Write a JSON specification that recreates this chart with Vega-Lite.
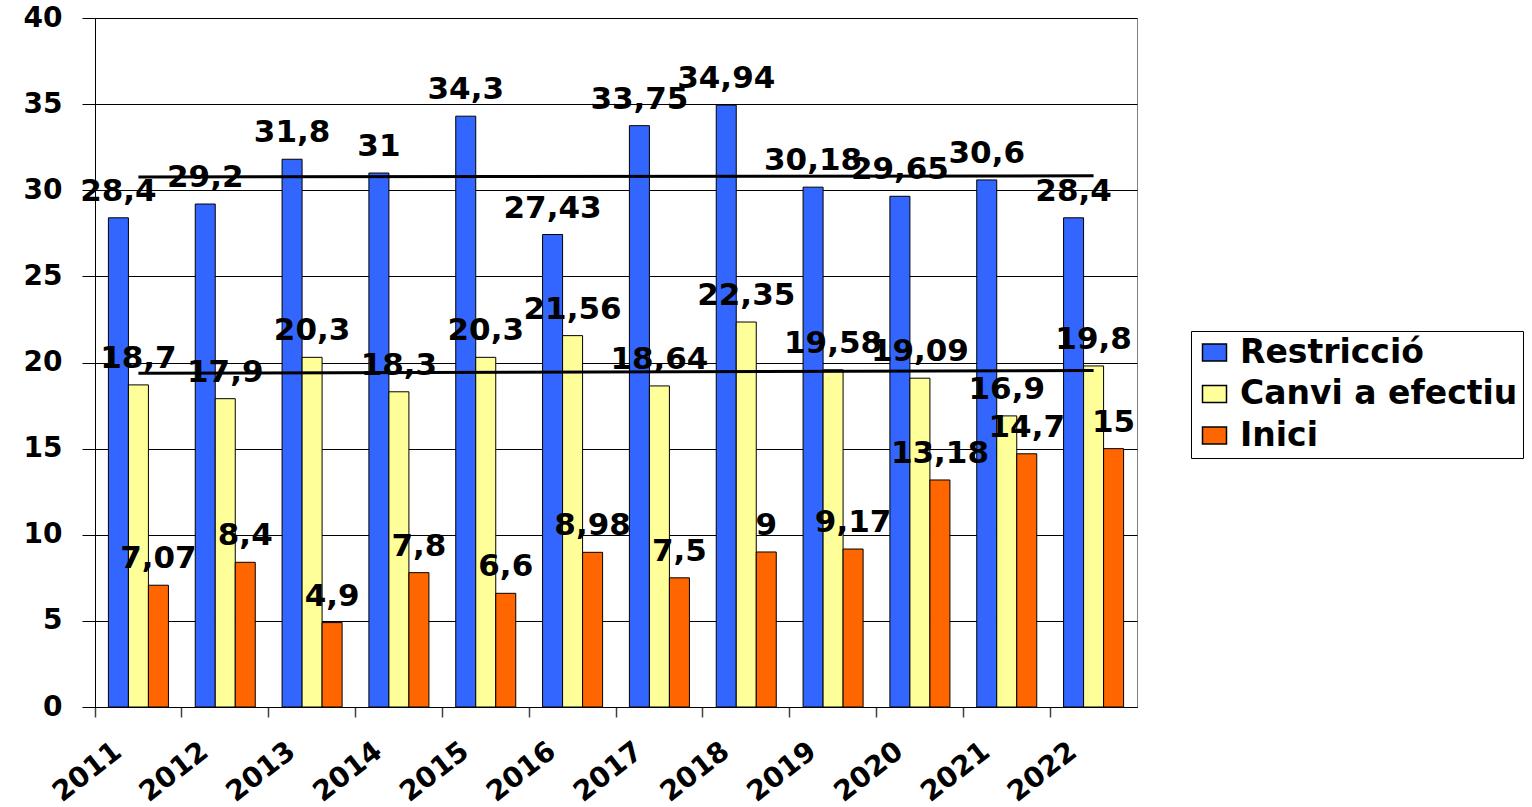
{
  "$schema": "https://vega.github.io/schema/vega-lite/v6.json",
  "autosize": {"type": "none"},
  "width": 1042,
  "height": 689,
  "padding": {"left": 95, "top": 18, "right": 395, "bottom": 100},
  "background": "white",
  "config": {
    "locale": {
      "number": {"decimal": ",", "thousands": ".", "grouping": [3], "currency": ["", " €"]}
    },
    "view": {"stroke": "#808080", "strokeWidth": 1},
    "font": "DejaVu Sans"
  },
  "data": {
    "values": [
      {"year": 2011, "series": "Restricció", "value": 28.4},
      {"year": 2011, "series": "Canvi a efectiu", "value": 18.7},
      {"year": 2011, "series": "Inici", "value": 7.07},
      {"year": 2012, "series": "Restricció", "value": 29.2},
      {"year": 2012, "series": "Canvi a efectiu", "value": 17.9},
      {"year": 2012, "series": "Inici", "value": 8.4},
      {"year": 2013, "series": "Restricció", "value": 31.8},
      {"year": 2013, "series": "Canvi a efectiu", "value": 20.3},
      {"year": 2013, "series": "Inici", "value": 4.9},
      {"year": 2014, "series": "Restricció", "value": 31},
      {"year": 2014, "series": "Canvi a efectiu", "value": 18.3},
      {"year": 2014, "series": "Inici", "value": 7.8},
      {"year": 2015, "series": "Restricció", "value": 34.3},
      {"year": 2015, "series": "Canvi a efectiu", "value": 20.3},
      {"year": 2015, "series": "Inici", "value": 6.6},
      {"year": 2016, "series": "Restricció", "value": 27.43},
      {"year": 2016, "series": "Canvi a efectiu", "value": 21.56},
      {"year": 2016, "series": "Inici", "value": 8.98},
      {"year": 2017, "series": "Restricció", "value": 33.75},
      {"year": 2017, "series": "Canvi a efectiu", "value": 18.64},
      {"year": 2017, "series": "Inici", "value": 7.5},
      {"year": 2018, "series": "Restricció", "value": 34.94},
      {"year": 2018, "series": "Canvi a efectiu", "value": 22.35},
      {"year": 2018, "series": "Inici", "value": 9},
      {"year": 2019, "series": "Restricció", "value": 30.18},
      {"year": 2019, "series": "Canvi a efectiu", "value": 19.58},
      {"year": 2019, "series": "Inici", "value": 9.17},
      {"year": 2020, "series": "Restricció", "value": 29.65},
      {"year": 2020, "series": "Canvi a efectiu", "value": 19.09},
      {"year": 2020, "series": "Inici", "value": 13.18},
      {"year": 2021, "series": "Restricció", "value": 30.6},
      {"year": 2021, "series": "Canvi a efectiu", "value": 16.9},
      {"year": 2021, "series": "Inici", "value": 14.7},
      {"year": 2022, "series": "Restricció", "value": 28.4},
      {"year": 2022, "series": "Canvi a efectiu", "value": 19.8},
      {"year": 2022, "series": "Inici", "value": 15}
    ]
  },
  "encoding": {
    "x": {
      "field": "year",
      "type": "ordinal",
      "scale": {"paddingInner": 0, "paddingOuter": 0},
      "axis": {
        "title": null,
        "bandPosition": 0,
        "domainColor": "#000000",
        "tickColor": "#404040",
        "tickSize": 10,
        "tickWidth": 1.5,
        "grid": false,
        "labelAngle": -38,
        "labelAlign": "right",
        "labelBaseline": "middle",
        "labelOffset": -20,
        "labelPadding": 31,
        "labelFont": "DejaVu Sans",
        "labelFontSize": 28,
        "labelFontWeight": "bold",
        "labelColor": "#000000",
        "labelOverlap": false
      }
    },
    "y": {
      "field": "value",
      "type": "quantitative",
      "scale": {"domain": [0, 40], "nice": false},
      "axis": {
        "title": null,
        "values": [0, 5, 10, 15, 20, 25, 30, 35, 40],
        "domainColor": "#000000",
        "tickColor": "#000000",
        "tickSize": 13,
        "grid": true,
        "gridColor": "#000000",
        "labelPadding": 20,
        "labelFont": "DejaVu Sans",
        "labelFontSize": 28,
        "labelFontWeight": "bold",
        "labelColor": "#000000",
        "labelBaseline": "middle"
      }
    }
  },
  "layer": [
    {
      "mark": {"type": "bar", "stroke": "#000000", "strokeWidth": 1},
      "encoding": {
        "xOffset": {
          "field": "series",
          "type": "nominal",
          "sort": ["Restricció", "Canvi a efectiu", "Inici"],
          "scale": {"paddingInner": 0, "paddingOuter": 0.67}
        },
        "color": {
          "field": "series",
          "type": "nominal",
          "sort": ["Restricció", "Canvi a efectiu", "Inici"],
          "scale": {
            "domain": ["Restricció", "Canvi a efectiu", "Inici"],
            "range": ["#3366FF", "#FFFF99", "#FF6600"]
          },
          "legend": {
            "title": null,
            "orient": "none",
            "legendX": 1096,
            "legendY": 313,
            "padding": 5,
            "strokeColor": "#000000",
            "fillColor": "#FFFFFF",
            "symbolType": "M-1.2,-0.85H1.2V0.85H-1.2Z",
            "symbolSize": 400,
            "symbolOffset": 2,
            "symbolStrokeColor": "#000000",
            "labelFont": "DejaVu Sans",
            "labelFontSize": 33,
            "labelFontWeight": "bold",
            "labelColor": "#000000",
            "labelOffset": 9,
            "labelLimit": 400,
            "rowPadding": 7.5
          }
        }
      }
    },
    {
      "transform": [
        {"filter": "datum.series !== 'Inici'"},
        {"regression": "value", "on": "year", "groupby": ["series"], "method": "linear"}
      ],
      "mark": {"type": "line", "color": "#000000", "strokeWidth": 3},
      "encoding": {
        "detail": {"field": "series", "type": "nominal"}
      }
    },
    {
      "mark": {
        "type": "text",
        "font": "DejaVu Sans",
        "fontSize": 31,
        "fontWeight": "bold",
        "color": "#000000",
        "align": "center",
        "baseline": "middle",
        "dy": -26
      },
      "encoding": {
        "xOffset": {
          "field": "series",
          "type": "nominal",
          "sort": ["Restricció", "Canvi a efectiu", "Inici"]
        },
        "text": {"field": "value", "type": "quantitative", "format": ".2~f"}
      }
    }
  ]
}
